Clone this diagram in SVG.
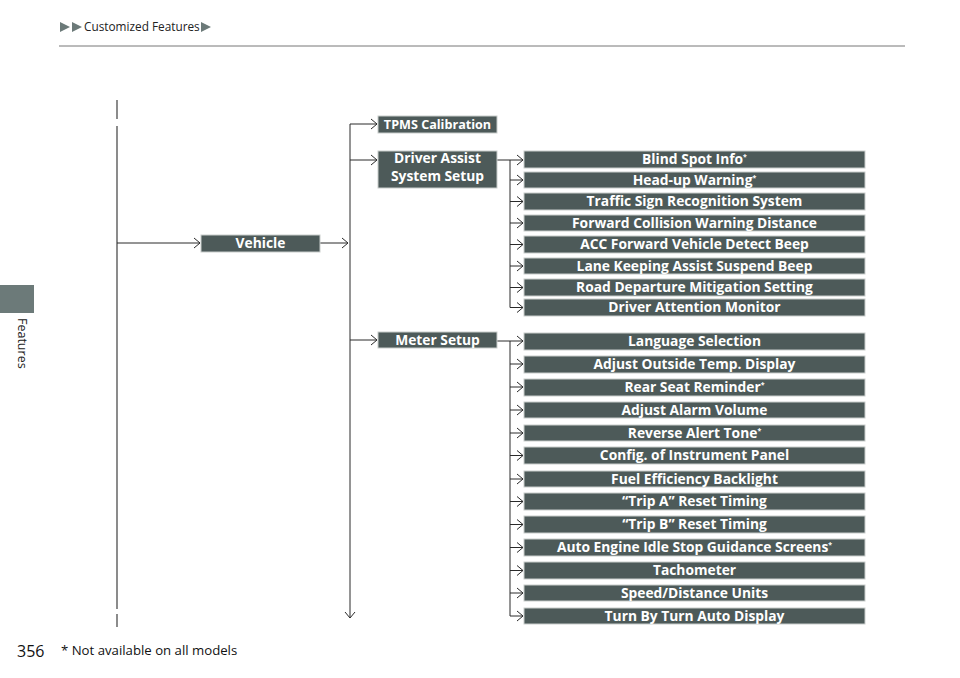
<svg xmlns="http://www.w3.org/2000/svg" width="960" height="678" viewBox="0 0 960 678">
<style>
.box{fill:#4d5a59;stroke:#c9cdcc;stroke-width:1}
.bt{font-family:"Open Sans","Liberation Sans",sans-serif;font-weight:bold;font-size:13.8px;fill:#fff;text-anchor:middle}
.sup{font-size:7px}
.ln{fill:none;stroke:#2a2a2a;stroke-width:1}
.gl{fill:none;stroke:#6f6f6f;stroke-width:1.6}
.tri{fill:#6c7a79}
</style>
<defs>
<marker id="ah" markerUnits="userSpaceOnUse" markerWidth="10" markerHeight="12" refX="7" refY="6" orient="auto">
<path d="M1,1 L7,6 L1,11" fill="none" stroke="#2a2a2a" stroke-width="1"/>
</marker>
</defs>
<rect width="960" height="678" fill="#fff"/>
<g id="header">
<polygon class="tri" points="60,22 70,27 60,32"/>
<polygon class="tri" points="72,22 82,27 72,32"/>
<text x="84" y="31" font-family="'Open Sans','Liberation Sans',sans-serif" font-size="11.8" fill="#222">Customized Features</text>
<polygon class="tri" points="201,22 211,27 201,32"/>
<line x1="59" y1="46" x2="905" y2="46" stroke="#777" stroke-width="1"/>
</g>
<g id="sidetab">
<rect x="0" y="285" width="34" height="28" fill="#6c7a79"/>
<text transform="translate(18,318) rotate(90)" font-family="'Open Sans','Liberation Sans',sans-serif" font-size="12.5" fill="#222">Features</text>
</g>
<g id="connectors">
<line class="gl" x1="117" y1="100" x2="117" y2="119"/>
<line class="gl" x1="117" y1="126" x2="117" y2="609"/>
<line class="gl" x1="117" y1="614" x2="117" y2="627"/>
<line class="ln" x1="117" y1="243" x2="200" y2="243" marker-end="url(#ah)"/>
<line class="ln" x1="320" y1="243" x2="348" y2="243" marker-end="url(#ah)"/>
<line class="ln" x1="350" y1="124" x2="350" y2="618" marker-end="url(#ah)"/>
<line class="ln" x1="350" y1="124" x2="377" y2="124" marker-end="url(#ah)"/>
<line class="ln" x1="350" y1="160" x2="377" y2="160" marker-end="url(#ah)"/>
<line class="ln" x1="350" y1="340" x2="377" y2="340" marker-end="url(#ah)"/>
<line class="ln" x1="497" y1="160" x2="510" y2="160"/>
<line class="ln" x1="510" y1="160" x2="510" y2="307.5"/>
<line class="ln" x1="497" y1="341" x2="510" y2="341"/>
<line class="ln" x1="510" y1="341" x2="510" y2="616"/>
<g id="da-arrows">
<line class="ln" x1="510" y1="160" x2="523" y2="160" marker-end="url(#ah)"/>
<line class="ln" x1="510" y1="180" x2="523" y2="180" marker-end="url(#ah)"/>
<line class="ln" x1="510" y1="201.5" x2="523" y2="201.5" marker-end="url(#ah)"/>
<line class="ln" x1="510" y1="223" x2="523" y2="223" marker-end="url(#ah)"/>
<line class="ln" x1="510" y1="244.5" x2="523" y2="244.5" marker-end="url(#ah)"/>
<line class="ln" x1="510" y1="266" x2="523" y2="266" marker-end="url(#ah)"/>
<line class="ln" x1="510" y1="287.5" x2="523" y2="287.5" marker-end="url(#ah)"/>
<line class="ln" x1="510" y1="307.5" x2="523" y2="307.5" marker-end="url(#ah)"/>
</g>
<g id="ms-arrows">
<line class="ln" x1="510" y1="341" x2="523" y2="341" marker-end="url(#ah)"/>
<line class="ln" x1="510" y1="364" x2="523" y2="364" marker-end="url(#ah)"/>
<line class="ln" x1="510" y1="387" x2="523" y2="387" marker-end="url(#ah)"/>
<line class="ln" x1="510" y1="410" x2="523" y2="410" marker-end="url(#ah)"/>
<line class="ln" x1="510" y1="433" x2="523" y2="433" marker-end="url(#ah)"/>
<line class="ln" x1="510" y1="455.5" x2="523" y2="455.5" marker-end="url(#ah)"/>
<line class="ln" x1="510" y1="479" x2="523" y2="479" marker-end="url(#ah)"/>
<line class="ln" x1="510" y1="501.5" x2="523" y2="501.5" marker-end="url(#ah)"/>
<line class="ln" x1="510" y1="524.5" x2="523" y2="524.5" marker-end="url(#ah)"/>
<line class="ln" x1="510" y1="547.5" x2="523" y2="547.5" marker-end="url(#ah)"/>
<line class="ln" x1="510" y1="570.5" x2="523" y2="570.5" marker-end="url(#ah)"/>
<line class="ln" x1="510" y1="593" x2="523" y2="593" marker-end="url(#ah)"/>
<line class="ln" x1="510" y1="616" x2="523" y2="616" marker-end="url(#ah)"/>
</g>
</g>
<g id="vehicle"><rect class="box" x="201" y="235" width="119" height="17"/><text class="bt" x="260.5" y="248">Vehicle</text></g>
<g id="tpms"><rect class="box" x="378" y="116" width="119" height="17"/><text class="bt" x="437.5" y="129" style="font-size:12.6px">TPMS Calibration</text></g>
<g id="driver-assist"><rect class="box" x="378" y="151" width="119" height="37"/><text class="bt" x="437.5" y="163">Driver Assist</text><text class="bt" x="437.5" y="181">System Setup</text></g>
<g id="meter-setup"><rect class="box" x="378" y="332" width="119" height="16"/><text class="bt" x="437.5" y="344.5">Meter Setup</text></g>
<g id="blind-spot"><rect class="box" x="524" y="151" width="341" height="17"/><text class="bt" x="694.5" y="164">Blind Spot Info<tspan class="sup" dy="-5">*</tspan></text></g>
<g id="head-up"><rect class="box" x="524" y="172" width="341" height="16"/><text class="bt" x="694.5" y="184.5">Head-up Warning<tspan class="sup" dy="-5">*</tspan></text></g>
<g id="traffic-sign"><rect class="box" x="524" y="193" width="341" height="17"/><text class="bt" x="694.5" y="206">Traffic Sign Recognition System</text></g>
<g id="fcw"><rect class="box" x="524" y="215" width="341" height="16"/><text class="bt" x="694.5" y="227.5">Forward Collision Warning Distance</text></g>
<g id="acc"><rect class="box" x="524" y="236" width="341" height="17"/><text class="bt" x="694.5" y="249">ACC Forward Vehicle Detect Beep</text></g>
<g id="lka"><rect class="box" x="524" y="258" width="341" height="16"/><text class="bt" x="694.5" y="270.5">Lane Keeping Assist Suspend Beep</text></g>
<g id="rdm"><rect class="box" x="524" y="279" width="341" height="17"/><text class="bt" x="694.5" y="292">Road Departure Mitigation Setting</text></g>
<g id="dam"><rect class="box" x="524" y="299" width="341" height="17"/><text class="bt" x="694.5" y="312">Driver Attention Monitor</text></g>
<g id="language"><rect class="box" x="524" y="333" width="341" height="17"/><text class="bt" x="694.5" y="346">Language Selection</text></g>
<g id="outside-temp"><rect class="box" x="524" y="356" width="341" height="17"/><text class="bt" x="694.5" y="369">Adjust Outside Temp. Display</text></g>
<g id="rear-seat"><rect class="box" x="524" y="379" width="341" height="17"/><text class="bt" x="694.5" y="392">Rear Seat Reminder<tspan class="sup" dy="-5">*</tspan></text></g>
<g id="alarm-volume"><rect class="box" x="524" y="402" width="341" height="16"/><text class="bt" x="694.5" y="414.5">Adjust Alarm Volume</text></g>
<g id="reverse-tone"><rect class="box" x="524" y="425" width="341" height="16"/><text class="bt" x="694.5" y="437.5">Reverse Alert Tone<tspan class="sup" dy="-5">*</tspan></text></g>
<g id="config-panel"><rect class="box" x="524" y="447" width="341" height="17"/><text class="bt" x="694.5" y="460">Config. of Instrument Panel</text></g>
<g id="fuel-backlight"><rect class="box" x="524" y="471" width="341" height="16"/><text class="bt" x="694.5" y="483.5">Fuel Efficiency Backlight</text></g>
<g id="trip-a"><rect class="box" x="524" y="493" width="341" height="17"/><text class="bt" x="694.5" y="506">“Trip A” Reset Timing</text></g>
<g id="trip-b"><rect class="box" x="524" y="516" width="341" height="17"/><text class="bt" x="694.5" y="529">“Trip B” Reset Timing</text></g>
<g id="idle-stop"><rect class="box" x="524" y="539" width="341" height="17"/><text class="bt" x="694.5" y="552">Auto Engine Idle Stop Guidance Screens<tspan class="sup" dy="-5">*</tspan></text></g>
<g id="tachometer"><rect class="box" x="524" y="562" width="341" height="17"/><text class="bt" x="694.5" y="575">Tachometer</text></g>
<g id="speed-units"><rect class="box" x="524" y="585" width="341" height="16"/><text class="bt" x="694.5" y="597.5">Speed/Distance Units</text></g>
<g id="turn-by-turn"><rect class="box" x="524" y="608" width="341" height="16"/><text class="bt" x="694.5" y="620.5">Turn By Turn Auto Display</text></g>
<g id="footer">
<text x="17" y="657" font-family="'Open Sans','Liberation Sans',sans-serif" font-size="16" fill="#111">356</text>
<text x="61" y="655" font-family="'Open Sans','Liberation Sans',sans-serif" font-size="13.2" fill="#111">* Not available on all models</text>
</g>
</svg>
